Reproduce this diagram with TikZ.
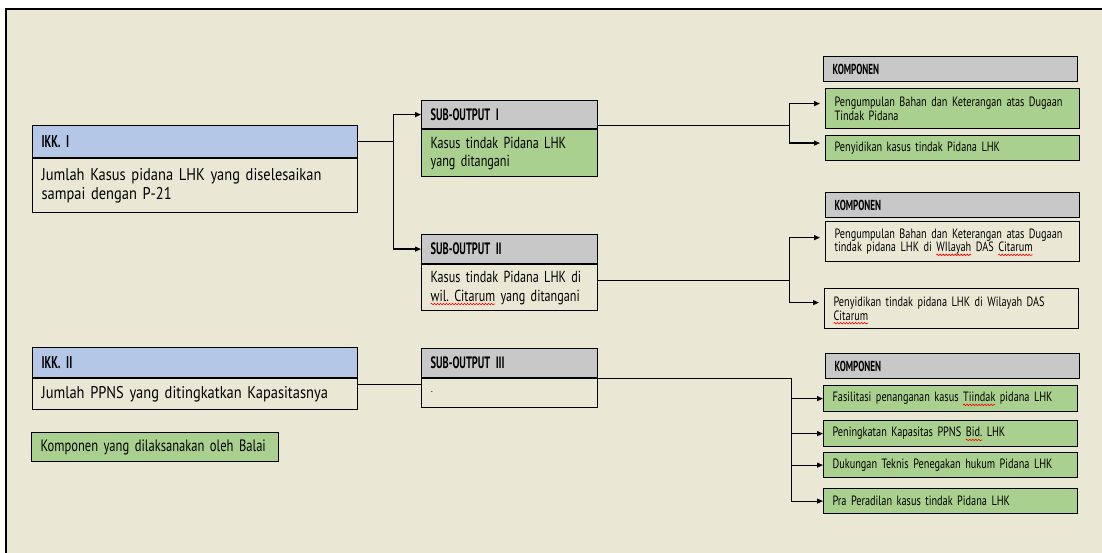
\documentclass[tikz,border=0pt]{standalone}
\usepackage{fontspec}
\setmainfont{PT Sans}[FakeStretch=0.85]
\newfontfamily\kfont{PT Sans}[FakeStretch=0.76]
\newfontfamily\hdfont{PT Sans}[FakeStretch=0.63]
\usetikzlibrary{arrows.meta, decorations.pathmorphing}

\definecolor{bgbeige}{RGB}{234,232,213}
\definecolor{hdblue}{RGB}{180,199,231}
\definecolor{hdgrey}{RGB}{200,200,200}
\definecolor{kgreen}{RGB}{169,208,142}

% red spell-check wave under a word
\newsavebox{\spellbox}
\newcommand{\spell}[1]{\leavevmode\sbox{\spellbox}{#1}\rlap{\tikz[overlay]\draw[red, line width=0.6pt,
    decorate, decoration={snake, amplitude=0.8pt, segment length=3pt}] (0pt,-3pt) -- (\wd\spellbox,-3pt);}\usebox{\spellbox}}

\tikzset{
  box/.style={draw, line width=1.2pt, anchor=north west, inner xsep=9pt, inner ysep=0pt, align=left},
  ikkhead/.style={box, fill=hdblue, text width=307pt, font=\hdfont\bfseries\fontsize{17}{18}\selectfont},
  ikkbody/.style={box, text width=307pt, font=\fontsize{17}{19}\selectfont},
  subhead/.style={box, fill=hdgrey, text width=158pt, font=\hdfont\bfseries\fontsize{16.5}{18}\selectfont},
  subbody/.style={box, text width=158pt, font=\kfont\fontsize{16}{18.5}\selectfont},
  komphead/.style={box, fill=hdgrey, text width=236pt, minimum height=25pt, font=\hdfont\bfseries\fontsize{14.5}{15}\selectfont},
  kompbox/.style={box, text width=236pt, font=\kfont\fontsize{13.5}{13.8}\selectfont},
  conn/.style={line width=1.2pt},
  arr/.style={conn, -{Triangle[length=6pt,width=5pt]}},
  arrgap/.style={arr, shorten >=5pt}
}

\begin{document}
\begin{tikzpicture}[x=1pt, y=-1pt]
  \useasboundingbox (0,0) rectangle (1102,553);
  % Page and frame
  \fill[white] (0,0) rectangle (1102,553);
  \fill[bgbeige] (6,9) rectangle (1102,553);
  \draw[line width=2pt] (6,553) -- (6,9) -- (1102,9);

  % IKK I
  \node[ikkhead, minimum height=32pt] (ikk1h) at (32,125) {IKK. I};
  \node[ikkbody, minimum height=54pt] (ikk1b) at (ikk1h.south west) {Jumlah Kasus pidana LHK yang diselesaikan\\sampai dengan P-21};
  % IKK II
  \node[ikkhead, minimum height=30pt] (ikk2h) at (32,347) {IKK. II};
  \node[ikkbody, minimum height=31pt] (ikk2b) at (ikk2h.south west) {Jumlah PPNS yang ditingkatkan Kapasitasnya};
  % Legend
  \node[box, fill=kgreen, text width=229pt, minimum height=29pt, font=\kfont\fontsize{16.5}{17}\selectfont] (legend) at (31,432) {Komponen yang dilaksanakan oleh Balai};

  % Sub-outputs
  \node[subhead, minimum height=28pt] (so1h) at (421,100) {SUB-OUTPUT I};
  \node[subbody, fill=kgreen, minimum height=47pt] (so1b) at (so1h.south west) {Kasus tindak Pidana LHK\\yang ditangani};
  \node[subhead, minimum height=29pt] (so2h) at (421,234) {SUB-OUTPUT II};
  \node[subbody, minimum height=46pt] (so2b) at (so2h.south west) {Kasus tindak Pidana LHK di\\\spell{wil.\ Citarum} yang ditangani};
  \node[subhead, minimum height=29pt] (so3h) at (421,348) {SUB-OUTPUT III};
  \node[subbody, minimum height=29pt, font=\fontsize{8}{10}\selectfont] (so3b) at (so3h.south west) {-};

  % Komponen of sub-output I
  \node[komphead] (k1h) at (823,56) {KOMPONEN};
  \node[kompbox, fill=kgreen, minimum height=40pt] (k1a) at (825,88) {Pengumpulan Bahan dan Keterangan atas Dugaan\\Tindak Pidana};
  \node[kompbox, fill=kgreen, minimum height=25pt] (k1b) at (825,135) {Penyidikan kasus tindak Pidana LHK};
  % Komponen of sub-output II
  \node[komphead] (k2h) at (825,192) {KOMPONEN};
  \node[kompbox, minimum height=40pt] (k2a) at (825,221) {Pengumpulan Bahan dan Keterangan atas Dugaan\\tindak pidana LHK di \spell{WIlayah} DAS \spell{Citarum}};
  \node[kompbox, minimum height=40pt] (k2b) at (824,288) {Penyidikan tindak pidana LHK di Wilayah DAS\\\spell{Citarum}};
  % Komponen of sub-output III
  \node[komphead] (k3h) at (825,353) {KOMPONEN};
  \node[kompbox, fill=kgreen, minimum height=26pt] (k3a) at (823,385) {Fasilitasi penanganan kasus \spell{Tiindak} pidana LHK};
  \node[kompbox, fill=kgreen, minimum height=26pt] (k3b) at (823,420) {Peningkatan Kapasitas PPNS \spell{Bid.} LHK};
  \node[kompbox, fill=kgreen, minimum height=25pt] (k3c) at (823,452) {Dukungan Teknis Penegakan hukum Pidana LHK};
  \node[kompbox, fill=kgreen, minimum height=25pt] (k3d) at (823,488) {Pra Peradilan kasus tindak Pidana LHK};

  % IKK I to sub-outputs I and II
  \draw[conn] (ikk1h.east) -- ++(35,0) coordinate (br1);
  \draw[arr] (br1) |- (so1h.west);
  \draw[arr] (br1) |- (so2h.west);
  % IKK II to sub-output III
  \draw[conn] ([yshift=-6pt]ikk2b.north east) -- ([yshift=-6pt]so3b.north west);

  % Sub-output I to its komponen
  \draw[conn] ([yshift=4pt]so1h.south east) -- ++(191,0) coordinate (br2);
  \draw[arrgap] (br2) |- ([yshift=5pt]k1a.west);
  \draw[arrgap] (br2) |- ([yshift=5pt]k1b.west);
  % Sub-output II to its komponen
  \draw[conn] ([yshift=7pt]so2b.east) -- ++(191,0) coordinate (br3);
  \draw[arrgap] (br3) |- ([yshift=4pt]k2a.west);
  \draw[arrgap] (br3) |- ([yshift=6pt]k2b.west);
  % Sub-output III to its komponen
  \draw[conn] (so3h.south east) -- ++(193,0) coordinate (br4);
  \foreach \k in {k3a,k3b,k3c,k3d}
    \draw[arr] (br4) |- (\k.west);
\end{tikzpicture}
\end{document}
